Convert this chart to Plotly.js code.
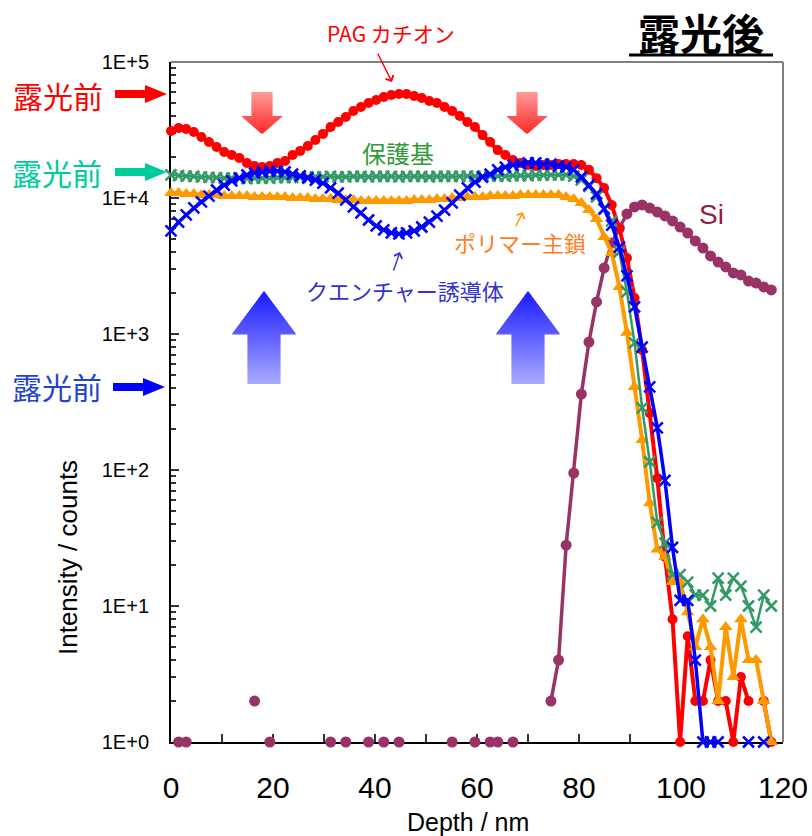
<!DOCTYPE html>
<html>
<head>
<meta charset="utf-8">
<script src="https://cdn.plot.ly/plotly-3.0.1.min.js"></script>
<style>
  html, body { margin: 0; padding: 0; background: #fff; }
  #chart { width: 812px; height: 836px; }
</style>
</head>
<body>
<div id="chart"></div>
<script>
// Depth profile (nm) and intensities (counts) per species
const depth = [0, 1.49, 2.98, 4.47, 5.96, 7.45, 8.94, 10.43, 11.92, 13.41, 14.9, 16.39, 17.88, 19.37, 20.86, 22.35,
  23.84, 25.33, 26.82, 28.31, 29.8, 31.29, 32.78, 34.27, 35.76, 37.25, 38.74, 40.23, 41.72, 43.21, 44.7, 46.19,
  47.68, 49.17, 50.66, 52.15, 53.64, 55.13, 56.62, 58.11, 59.6, 61.09, 62.58, 64.07, 65.56, 67.05, 68.54, 70.03,
  71.52, 73.01, 74.5, 75.99, 77.48, 78.97, 80.46, 81.95, 83.44, 84.93, 86.42, 87.91, 89.4, 90.89, 92.38, 93.87,
  95.36, 96.85, 98.34, 99.83, 101.32, 102.81, 104.3, 105.79, 107.28, 108.77, 110.26, 111.75, 113.24, 114.73,
  116.22, 117.71];

// PAG カチオン
const pagCation = [31100, 32700, 32200, 30600, 28100, 25800, 23700, 21800, 20700, 19700, 18100, 17200, 16900, 17200,
  18100, 18700, 20700, 22200, 24100, 26700, 29600, 33300, 36200, 39400, 43600, 46700, 50000, 52600, 55300, 57200,
  58200, 58200, 56200, 54300, 51600, 50000, 46700, 43600, 40100, 36200, 33300, 29000, 25800, 22500, 20700, 19000,
  18100, 17500, 17200, 17500, 17500, 17800, 17800, 17800, 17500, 16100, 14000, 11850, 8880, 5920, 3620, 1840, 763,
  262, 87, 23, 8, 1, 6, 2, 2, 4, 2, 2, 1, 3, 2, null, 2, 1];

// 保護基
const protectingGroup = [14800, 14600, 14500, 14400, 14300, 14200, 14100, 14000, 14000, 14000, 13900, 14000, 14000,
  14000, 14100, 14100, 14200, 14200, 14300, 14300, 14300, 14400, 14300, 14300, 14400, 14400, 14300, 14400, 14400,
  14400, 14300, 14400, 14400, 14400, 14300, 14400, 14400, 14400, 14400, 14500, 14400, 14500, 14500, 14500, 14500,
  14600, 14600, 14600, 14700, 14700, 14800, 14800, 14800, 14500, 13600, 12200, 10200, 8400, 6780, 4010, 2040, 860,
  286, 115, 41, 29, 17, 17, 15, 12, 12, 10, 16, 12, 16, 14, 10, 7, 12, 10];

// ポリマー主鎖
const polymerChain = [10880, 10880, 10700, 10700, 10520, 10520, 10520, 10340, 10340, 10340, 10340, 10170, 10170,
  10170, 10170, 10170, 10000, 10000, 10000, 9830, 9830, 9830, 9670, 9670, 9670, 9510, 9510, 9510, 9510, 9510, 9510,
  9510, 9670, 9670, 9670, 9830, 9830, 10000, 10000, 10170, 10170, 10170, 10340, 10340, 10340, 10340, 10520, 10520,
  10520, 10520, 10520, 10520, 10170, 9830, 9190, 8160, 7000, 5170, 3940, 2220, 1020, 408, 166, 57, 26, 23, 15, 15,
  9, 5, 8, 5, 2, 7, 3, 8, 4, 4, 2, 1];

// クエンチャー誘導体
const quencher = [5720, 6660, 7500, 8450, 9350, 10340, 11450, 12460, 13340, 14030, 14760, 15270, 15530, 15790, 15790,
  15530, 15010, 14520, 14030, 13560, 12890, 11850, 10880, 9670, 8590, 7760, 6890, 6230, 5820, 5530, 5440, 5530, 5720,
  6120, 6660, 7370, 8160, 9190, 10520, 11850, 13110, 14270, 15010, 16070, 16900, 17480, 17780, 18090, 18090, 17780,
  17780, 17190, 16900, 16070, 14270, 12460, 10700, 8300, 6330, 4360, 2670, 1580, 802, 408, 204, 84, 27, 11, 11, 4,
  1, 1, 1, null, null, null, 1, null, 1, null];

// Si
const silicon = [null, 1, 1, null, null, null, null, null, null, null, null, 2, null, 1, null, null, null, null, null,
  null, null, 1, null, 1, null, null, 1, null, 1, null, 1, null, null, null, null, null, null, 1, null, null, 1, null,
  1, 1, null, 1, null, null, null, null, 2, 4, 28, 95, 362, 873, 1720, 3060, 4670, 6020, 7630, 8590, 8890, 8440,
  7890, 7380, 6780, 6120, 5530, 4830, 4290, 3750, 3380, 3110, 2810, 2720, 2450, 2370, 2220, 2110];

// Axis ticks
const xTickVals = [0, 20, 40, 60, 80, 100, 120];
const xTickText = ['0', '20', '40', '60', '80', '100', '120'];
const yTickVals = [1, 10, 100, 1000, 10000, 100000];
const yTickText = ['1E+0', '1E+1', '1E+2', '1E+3', '1E+4', '1E+5'];

// Plot-area geometry (px) used to place the overlay drawings
const LEFT = 171, RIGHT = 783, TOP = 62, BOTTOM = 742;
const PW = RIGHT - LEFT, PH = BOTTOM - TOP;
const fx = x => (x - LEFT) / PW;
const fy = y => (BOTTOM - y) / PH;
const path = pts => 'M' + pts.map(p => fx(p[0]).toFixed(5) + ',' + fy(p[1]).toFixed(5)).join('L') + 'Z';

const JP = 'Noto Sans CJK JP, sans-serif';
const LAT = 'Liberation Sans, Arial, sans-serif';

// Vertical block arrow filled with a top-to-bottom colour gradient, built from thin slices
function gradientArrow(cx, yTip, yBase, yEnd, headHalf, shaftHalf, topRGB, botRGB) {
  const shapes = [];
  const yMin = Math.min(yTip, yEnd), yMax = Math.max(yTip, yEnd);
  const halfAt = y => {
    const inHead = yTip < yEnd ? y <= yBase : y >= yBase;
    return inHead ? headHalf * Math.abs(y - yTip) / Math.abs(yBase - yTip) : shaftHalf;
  };
  const cuts = [];
  const step = 1.5;
  for (let y = yMin; y < yMax; y += step) cuts.push(y);
  cuts.push(yMax);
  if (!cuts.includes(yBase)) cuts.push(yBase);
  cuts.sort((a, b) => a - b);
  for (let i = 0; i < cuts.length - 1; i++) {
    const a = cuts[i], b = cuts[i + 1];
    if (b - a < 0.01) continue;
    const mid = (a + b) / 2;
    const inHead = yTip < yEnd ? mid <= yBase : mid >= yBase;
    const wa = inHead ? halfAt(a) : shaftHalf;
    const wb = inHead ? halfAt(b) : shaftHalf;
    const bb = Math.min(b + 0.6, yMax);
    const wbb = inHead ? (yTip < yEnd ? halfAt(Math.min(bb, yBase)) : wb) : shaftHalf;
    const t = (mid - yMin) / (yMax - yMin);
    const c = topRGB.map((v, k) => Math.round(v + (botRGB[k] - v) * t));
    shapes.push({
      type: 'path', xref: 'paper', yref: 'paper', layer: 'above',
      path: path([[cx - wa, a], [cx + wa, a], [cx + wbb, bb], [cx - wbb, bb]]),
      fillcolor: 'rgb(' + c.join(',') + ')', line: { width: 0 }
    });
  }
  return shapes;
}

// Solid right-pointing arrow next to the 露光前 labels
function sideArrow(x0, x1, yc, color) {
  const h1 = 4, h2 = 9, L = 22;
  return {
    type: 'path', xref: 'paper', yref: 'paper', fillcolor: color, line: { width: 0 },
    path: path([[x0, yc - h1], [x1 - L, yc - h1], [x1 - L, yc - h2], [x1, yc], [x1 - L, yc + h2], [x1 - L, yc + h1], [x0, yc + h1]])
  };
}

const shapes = [
  // grey frame on the top and right
  { type: 'line', xref: 'paper', yref: 'paper', x0: 0, x1: 1, y0: 1, y1: 1, line: { color: '#7f7f7f', width: 2 }, layer: 'below' },
  { type: 'line', xref: 'paper', yref: 'paper', x0: 1, x1: 1, y0: 0, y1: 1, line: { color: '#7f7f7f', width: 2 }, layer: 'below' },
  // title underline
  { type: 'line', xref: 'paper', yref: 'paper', x0: fx(629), x1: fx(773), y0: fy(55), y1: fy(55), line: { color: '#000', width: 3 } },
  sideArrow(115, 167, 94, '#ff0000'),
  sideArrow(115, 167, 172, '#00cc99'),
  sideArrow(113, 165, 387, '#0000ff'),
  ...gradientArrow(262, 134, 116, 92, 20.5, 10.5, [255, 155, 155], [255, 40, 40]),
  ...gradientArrow(527, 134, 116, 92, 20.5, 10.5, [255, 155, 155], [255, 40, 40]),
  ...gradientArrow(264, 291, 334, 384, 32, 16.5, [25, 25, 255], [170, 170, 255]),
  ...gradientArrow(528, 291, 334, 384, 32, 16.5, [25, 25, 255], [170, 170, 255])
];

function label(text, x, y, size, color, family, extra) {
  return Object.assign({
    text: text, xref: 'paper', yref: 'paper', x: fx(x), y: fy(y), xanchor: 'center', yanchor: 'middle',
    showarrow: false, font: { size: size, color: color, family: family }
  }, extra || {});
}
function pointer(hx, hy, tx, ty, color) {
  return {
    text: '', xref: 'paper', yref: 'paper', x: fx(hx), y: fy(hy), ax: tx - hx, ay: ty - hy,
    showarrow: true, arrowhead: 4, arrowsize: 1.2, arrowwidth: 1.4, arrowcolor: color, standoff: 0
  };
}

const annotations = [
  label('<b>露光後</b>', 701, 32, 42, '#000', JP),
  label('PAG カチオン', 391, 33, 21, '#ff0000', JP),
  pointer(392, 82, 377, 52, '#ff0000'),
  label('保護基', 398, 152, 24, '#2e9b38', JP),
  label('ポリマー主鎖', 520, 242, 22, '#ff7f1f', JP),
  pointer(523, 212, 515, 228, '#ff9900'),
  label('クエンチャー誘導体', 405, 290, 22, '#3333cc', JP),
  pointer(400, 252, 393, 272, '#3333cc'),
  label('Si', 711, 214, 28, '#99183f', LAT),
  label('露光前', 58, 95, 30, '#ff0000', JP),
  label('露光前', 57, 172, 30, '#00cc99', JP),
  label('露光前', 57, 386, 30, '#2244cc', JP),
  label('Intensity / counts', 68, 557, 26, '#000', LAT, { textangle: -90 }),
  label('Depth / nm', 468, 822, 25, '#000', LAT)
];

function series(y, color, symbol, size, lineWidth, markerLine) {
  const marker = { symbol: symbol, size: size, color: color };
  if (markerLine) marker.line = { width: markerLine, color: color };
  return {
    x: depth, y: y, type: 'scatter', mode: 'lines+markers', cliponaxis: false,
    line: { color: color, width: lineWidth }, marker: marker, hoverinfo: 'skip'
  };
}

const traces = [
  series(silicon, '#993366', 'circle', 11, 3.5),
  series(pagCation, '#ff0000', 'circle', 10, 4),
  series(polymerChain, '#ff9900', 'triangle-up', 12, 4),
  series(protectingGroup, '#339966', 'x-thin', 11, 2.5, 2.5),
  series(quencher, '#0000ff', 'x-thin', 11, 3.5, 2.5)
];

const layout = {
  width: 812, height: 836,
  margin: { l: LEFT, r: 812 - RIGHT, t: TOP, b: 836 - BOTTOM, pad: 0 },
  paper_bgcolor: '#fff', plot_bgcolor: '#fff',
  showlegend: false,
  xaxis: {
    range: [0, 120], showgrid: false, zeroline: false, showline: true, linecolor: '#000', linewidth: 2,
    layer: 'below traces', ticks: 'inside', ticklen: 8, tickwidth: 1.5, tickcolor: '#333',
    tickmode: 'array', tickvals: xTickVals, ticktext: xTickText,
    tickfont: { size: 30, family: LAT, color: '#000' }, ticklabelstandoff: 18,
    minor: { ticks: 'inside', ticklen: 8, tickwidth: 1.5, tickcolor: '#333', dtick: 10, tick0: 0, showgrid: false }
  },
  yaxis: {
    type: 'log', range: [0, 5], showgrid: false, zeroline: false, showline: true, linecolor: '#000', linewidth: 2,
    layer: 'below traces', ticks: 'inside', ticklen: 8, tickwidth: 1.5, tickcolor: '#333',
    tickmode: 'array', tickvals: yTickVals, ticktext: yTickText,
    tickfont: { size: 20, family: LAT, color: '#000' }, ticklabelstandoff: 16,
    minor: { ticks: 'inside', ticklen: 5, tickwidth: 1.5, tickcolor: '#333', dtick: 'D1', showgrid: false }
  },
  shapes: shapes,
  annotations: annotations
};

Plotly.newPlot('chart', traces, layout, { displayModeBar: false, staticPlot: true });
</script>
</body>
</html>
